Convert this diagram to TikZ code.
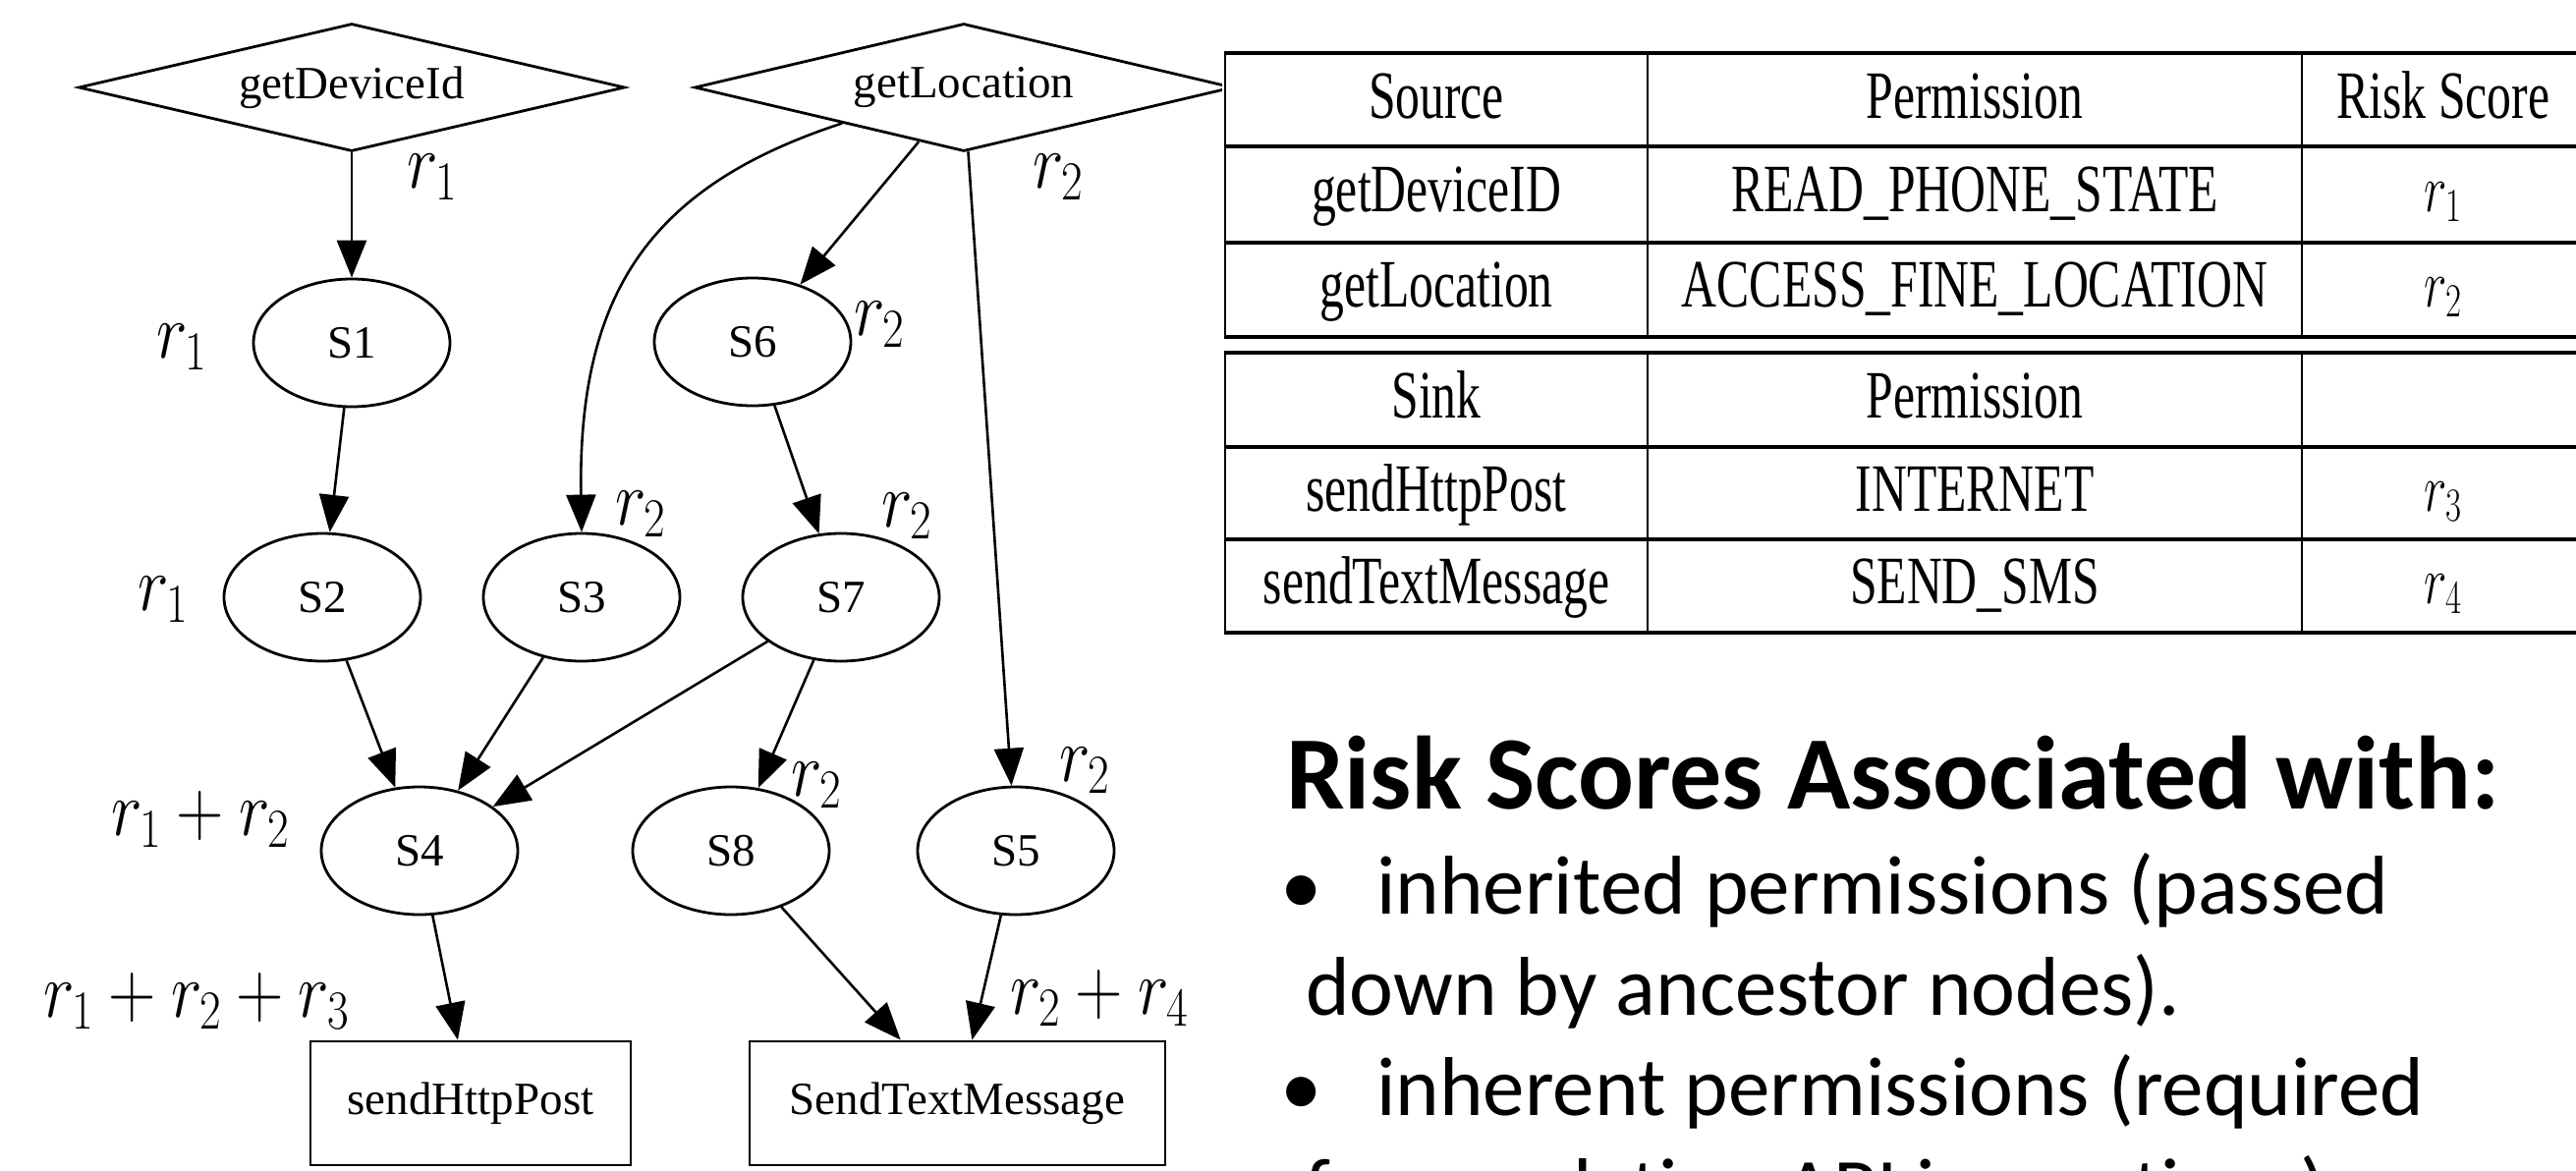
\RequirePackage{fix-cm}
\documentclass[tikz,border=0pt]{standalone}
\usepackage[no-math]{fontspec}
\setmainfont{Liberation Serif}
\newfontfamily\carlito{Carlito}
\usetikzlibrary{shapes.geometric,arrows.meta,calc}
\newcommand\mylab[1]{\scalebox{0.84}[1]{$#1$}}
\newcommand\tcx[1]{\scalebox{0.72}[1]{#1}}
\tikzset{
  gnode/.style={draw, line width=2.8pt, inner sep=0pt, font=\fontsize{47}{56}\selectfont},
  oval/.style={gnode, ellipse, minimum width=200pt, minimum height=130pt},
  src/.style={gnode, diamond, aspect=4.2, minimum height=130pt},
  sinkbox/.style={gnode, rectangle, minimum height=126pt},
  edge/.style={line width=2.6pt, -{Triangle[length=38pt,width=30pt]}},
  rlab/.style={anchor=base west, inner sep=0pt, font=\fontsize{80}{90}\selectfont},
  tcell/.style={anchor=base, inner sep=0pt, font=\fontsize{69}{80}\selectfont},
  hrule/.style={line width=3.5pt},
  vrule/.style={line width=2.2pt},
  title/.style={anchor=base west, inner sep=0pt, font=\carlito\bfseries\fontsize{106}{127}\selectfont},
  body/.style={anchor=base west, inner sep=0pt, font=\carlito\fontsize{85}{102}\selectfont}
}
\begin{document}
\begin{tikzpicture}[x=1pt,y=-1pt]
\useasboundingbox (0,0) rectangle (2622,1191);
\clip (0,0) rectangle (2622,1191);
\fill[white] (0,0) rectangle (2622,1191);

% graph nodes
\node[src, minimum width=556pt] (gD) at (358,89) {getDeviceId};
\node[src, minimum width=548pt] (gL) at (981,89) {getLocation};
\node[oval] (S1) at (358,349) {S1};
\node[oval] (S6) at (766,348) {S6};
\node[oval] (S2) at (328,608) {S2};
\node[oval] (S3) at (592,608) {S3};
\node[oval] (S7) at (856,608) {S7};
\node[oval] (S4) at (427,866) {S4};
\node[oval] (S8) at (744,866) {S8};
\node[oval] (S5) at (1034,866) {S5};
\node[sinkbox, minimum width=326pt] (hp) at (479,1123) {sendHttpPost};
\node[sinkbox, minimum width=423pt] (tm) at (974.5,1123) {SendTextMessage};

% edges
\draw[edge] (gD) -- (S1);
\draw[edge] (gL) -- (S6);
\draw[edge] ($(gL.west)!0.55!(gL.south)$) .. controls (660,190) and (588,300) .. (S3.north);
\draw[edge] (gL) -- (S5);
\draw[edge] (S1) -- (S2);
\draw[edge] (S6) -- (S7);
\draw[edge] (S2) -- (S4);
\draw[edge] (S3) -- (S4);
\draw[edge] (S7) -- (S4);
\draw[edge] (S7) -- (S8);
\draw[edge] (S4) -- (hp);
\draw[edge] (S8) -- (tm);
\draw[edge] (S5) -- (tm);

% risk labels
\node[rlab] (l1) at (414,191) {\mylab{r_1}};
\node[rlab] (l2) at (1051,191) {\mylab{r_2}};
\node[rlab] (l3) at (159,364) {\mylab{r_1}};
\node[rlab] (l4) at (869,341) {\mylab{r_2}};
\node[rlab] (l5) at (626,534) {\mylab{r_2}};
\node[rlab] (l6) at (897,536) {\mylab{r_2}};
\node[rlab] (l7) at (140,621) {\mylab{r_1}};
\node[rlab] (l8) at (113,850) {\mylab{r_1+r_2}};
\node[rlab] (l9) at (805,810) {\mylab{r_2}};
\node[rlab] (l10) at (1078,795) {\mylab{r_2}};
\node[rlab] (l11) at (44,1035) {\mylab{r_1+r_2+r_3}};
\node[rlab] (l12) at (1028,1032) {\mylab{r_2+r_4}};

% table
\fill[white] (1244,40) rectangle (2622,660);
\foreach \yy in {54,149,247,343,359,455,549,644}
  \draw[hrule] (1246,\yy) -- (2640,\yy);
\foreach \xx in {1247,1677,2343} {
  \draw[vrule] (\xx,54) -- (\xx,343);
  \draw[vrule] (\xx,359) -- (\xx,644);
}
\node[tcell] (t11) at (1462,120) {\tcx{Source}};
\node[tcell] (t12) at (2010,120) {\tcx{Permission}};
\node[tcell] (t13) at (2487,120) {\tcx{Risk Score}};
\node[tcell] (t21) at (1462,215) {\tcx{getDeviceID}};
\node[tcell] (t22) at (2010,215) {\tcx{READ\_PHONE\_STATE}};
\node[tcell] (t23) at (2487,215) {\tcx{$r_1$}};
\node[tcell] (t31) at (1462,312) {\tcx{getLocation}};
\node[tcell] (t32) at (2010,312) {\tcx{ACCESS\_FINE\_LOCATION}};
\node[tcell] (t33) at (2487,312) {\tcx{$r_2$}};
\node[tcell] (t41) at (1462,425) {\tcx{Sink}};
\node[tcell] (t42) at (2010,425) {\tcx{Permission}};
\node[tcell] (t51) at (1462,520) {\tcx{sendHttpPost}};
\node[tcell] (t52) at (2010,520) {\tcx{INTERNET}};
\node[tcell] (t53) at (2487,520) {\tcx{$r_3$}};
\node[tcell] (t61) at (1462,614) {\tcx{sendTextMessage}};
\node[tcell] (t62) at (2010,614) {\tcx{SEND\_SMS}};
\node[tcell] (t63) at (2487,614) {\tcx{$r_4$}};

% text block
\node[title] (ttl) at (1309,823) {Risk Scores Associated with:};
\node[body] (b1) at (1303,930) {•};
\node[body] (x1) at (1401,930) {inherited permissions (passed};
\node[body] (x2) at (1329,1033) {down by ancestor nodes).};
\node[body] (b2) at (1303,1135) {•};
\node[body] (x3) at (1401,1135) {inherent permissions (required};
\node[body] (x4) at (1328,1238) {for regulation API invocations).};
\end{tikzpicture}
\end{document}
